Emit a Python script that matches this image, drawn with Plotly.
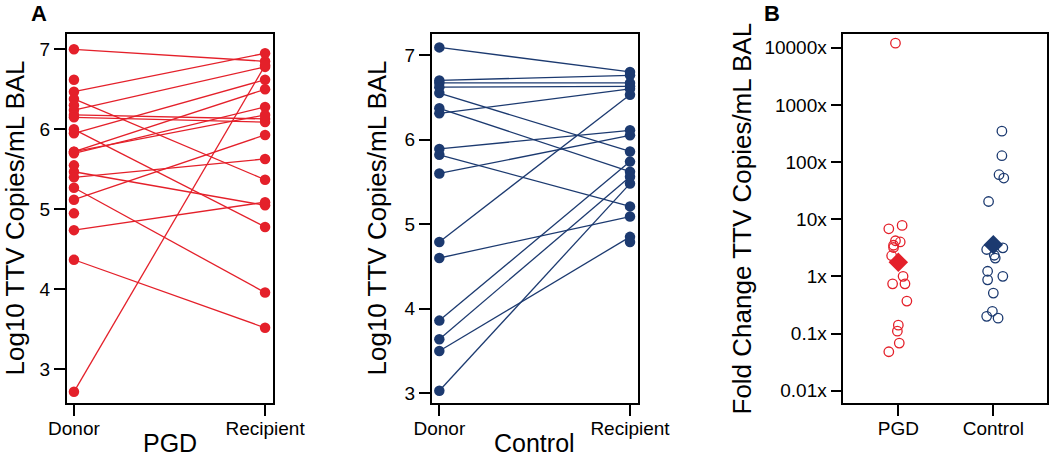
import plotly.graph_objects as go

# ---------------- data ----------------
pgd_donor = [7.00, 6.47, 6.38, 6.24, 6.18, 6.15, 6.00, 5.95, 5.72, 5.70, 5.72, 5.47, 5.40, 5.27, 5.12, 4.74, 4.37, 2.72]
pgd_recipient = [6.85, 6.95, 5.37, 6.78, 6.13, 6.09, 4.78, 6.62, 6.50, 6.28, 6.18, 5.05, 5.63, 3.96, 5.93, 5.09, 3.52, 6.80]
pgd_donor_unpaired = [6.62, 6.30, 5.55, 4.95]

ctrl_donor = [7.09, 6.70, 6.67, 6.62, 6.55, 6.37, 6.31, 5.89, 5.82, 5.60, 4.79, 4.60, 3.86, 3.64, 3.50, 3.03]
ctrl_recipient = [6.80, 6.76, 6.67, 6.63, 5.86, 5.62, 6.60, 6.11, 5.21, 6.05, 6.53, 5.09, 5.74, 5.56, 4.85, 5.48]
ctrl_recipient_unpaired = [4.79]

pair_labels = ["Donor", "Recipient"]

pgd_fold = [12000, 7.8, 6.8, 4.2, 4.0, 3.5, 3.2, 2.3, 1.0, 0.74, 0.74, 0.37, 0.14, 0.11, 0.068, 0.048]
pgd_jitter = [-0.03, 0.04, -0.10, -0.03, 0.02, -0.05, -0.05, -0.07, 0.05, -0.06, 0.07, 0.09, 0.00, -0.01, 0.01, -0.10]
ctrl_fold = [347, 129, 60, 52.5, 20.4, 2.95, 3.16, 2.34, 2.09, 1.23, 1.0, 0.87, 0.51, 0.245, 0.20, 0.186]
ctrl_jitter = [0.09, 0.09, 0.06, 0.11, -0.05, -0.07, 0.10, 0.01, 0.02, -0.06, 0.10, -0.06, 0.00, -0.01, -0.07, 0.05]
group_labels = ["PGD", "Control"]
group_means = [1.76, 3.58]

fold_tickvals = [0.01, 0.1, 1, 10, 100, 1000, 10000]
fold_ticktext = ["0.01x", "0.1x", "1x", "10x", "100x", "1000x", "10000x"]

RED = "#e4202a"
BLUE = "#1c3a70"
FONT = "Liberation Sans, Arial, Helvetica, sans-serif"

fig = go.Figure()

# ---------------- panel A: PGD ----------------
for d, r in zip(pgd_donor, pgd_recipient):
    fig.add_trace(go.Scatter(x=[0, 1], y=[d, r], mode="lines+markers",
                             line=dict(color=RED, width=1.3),
                             marker=dict(color=RED, size=10.5),
                             xaxis="x", yaxis="y", showlegend=False, hoverinfo="skip"))
fig.add_trace(go.Scatter(x=[0] * len(pgd_donor_unpaired), y=pgd_donor_unpaired, mode="markers",
                         marker=dict(color=RED, size=10.5), xaxis="x", yaxis="y",
                         showlegend=False))

# ---------------- panel A: Control ----------------
for d, r in zip(ctrl_donor, ctrl_recipient):
    fig.add_trace(go.Scatter(x=[0, 1], y=[d, r], mode="lines+markers",
                             line=dict(color=BLUE, width=1.3),
                             marker=dict(color=BLUE, size=10.5),
                             xaxis="x2", yaxis="y2", showlegend=False, hoverinfo="skip"))
fig.add_trace(go.Scatter(x=[1] * len(ctrl_recipient_unpaired), y=ctrl_recipient_unpaired, mode="markers",
                         marker=dict(color=BLUE, size=10.5), xaxis="x2", yaxis="y2",
                         showlegend=False))

# ---------------- panel B ----------------
fig.add_trace(go.Scatter(x=[0 + j for j in pgd_jitter], y=pgd_fold, mode="markers",
                         marker=dict(symbol="circle-open", color=RED, size=9.5, line=dict(width=1.3)),
                         xaxis="x3", yaxis="y3", showlegend=False))
fig.add_trace(go.Scatter(x=[1 + j for j in ctrl_jitter], y=ctrl_fold, mode="markers",
                         marker=dict(symbol="circle-open", color=BLUE, size=9.5, line=dict(width=1.3)),
                         xaxis="x3", yaxis="y3", showlegend=False))
fig.add_trace(go.Scatter(x=[0], y=[group_means[0]], mode="markers",
                         marker=dict(symbol="diamond", color=RED, size=15),
                         xaxis="x3", yaxis="y3", showlegend=False))
fig.add_trace(go.Scatter(x=[1], y=[group_means[1]], mode="markers",
                         marker=dict(symbol="diamond", color=BLUE, size=15),
                         xaxis="x3", yaxis="y3", showlegend=False))

W, H = 1050, 458
ytop = (H - 33.7) / H
ybot = (H - 403.4) / H

axis_common = dict(showline=True, linecolor="black", linewidth=1.5, mirror=True,
                   ticks="outside", ticklen=11, tickwidth=1.5, tickcolor="black",
                   showgrid=False, zeroline=False, automargin=False,
                   tickfont=dict(family=FONT, size=19, color="black"))

fig.update_layout(
    template="none",
    width=W, height=H, autosize=False,
    margin=dict(l=0, r=0, t=0, b=0, pad=0),
    paper_bgcolor="white", plot_bgcolor="white",
    font=dict(family=FONT, color="black"),
    xaxis=dict(domain=[66.7 / W, 272.7 / W], range=[-0.038, 1.040], anchor="y",
               tickvals=[0, 1], ticktext=pair_labels, ticklabelstandoff=-4, **axis_common),
    yaxis=dict(domain=[ybot, ytop], range=[2.575, 7.195],
               tickvals=[3, 4, 5, 6, 7], anchor="x", **axis_common),
    xaxis2=dict(domain=[431.7 / W, 638.3 / W], range=[-0.040, 1.0435], anchor="y2",
                tickvals=[0, 1], ticktext=pair_labels, ticklabelstandoff=-4, **axis_common),
    yaxis2=dict(domain=[ybot, ytop], range=[2.881, 7.252], anchor="x2",
                tickvals=[3, 4, 5, 6, 7], **axis_common),
    xaxis3=dict(domain=[843.3 / W, 1047.4 / W], range=[-0.579, 1.569], anchor="y3",
                tickvals=[0, 1], ticktext=group_labels, ticklabelstandoff=-4, **axis_common),
    yaxis3=dict(domain=[ybot, ytop], type="log", range=[-2.222, 4.245], anchor="x3",
                tickvals=fold_tickvals, ticktext=fold_ticktext, **axis_common),
)

def ann(text, x, y, size, angle=0, bold=False):
    fig.add_annotation(text=f"<b>{text}</b>" if bold else text,
                       x=x / W, y=(H - y) / H, xref="paper", yref="paper",
                       xanchor="center", yanchor="middle", showarrow=False,
                       textangle=angle, font=dict(family=FONT, size=size, color="black"))

ann("A", 38.7, 14, 22, bold=True)
ann("B", 772, 14, 22, bold=True)
ann("Log10 TTV Copies/mL BAL", 14, 218.5, 26, angle=-90)
ann("Log10 TTV Copies/mL BAL", 376, 218.5, 26, angle=-90)
ann("Fold Change TTV Copies/mL BAL", 741, 218.5, 26, angle=-90)
ann("PGD", 170, 443, 25)
ann("Control", 534.6, 443, 25)

fig.write_html("out.html",
               config={"displayModeBar": False},
               post_script="document.body.style.margin='0';document.body.style.overflow='hidden';")
